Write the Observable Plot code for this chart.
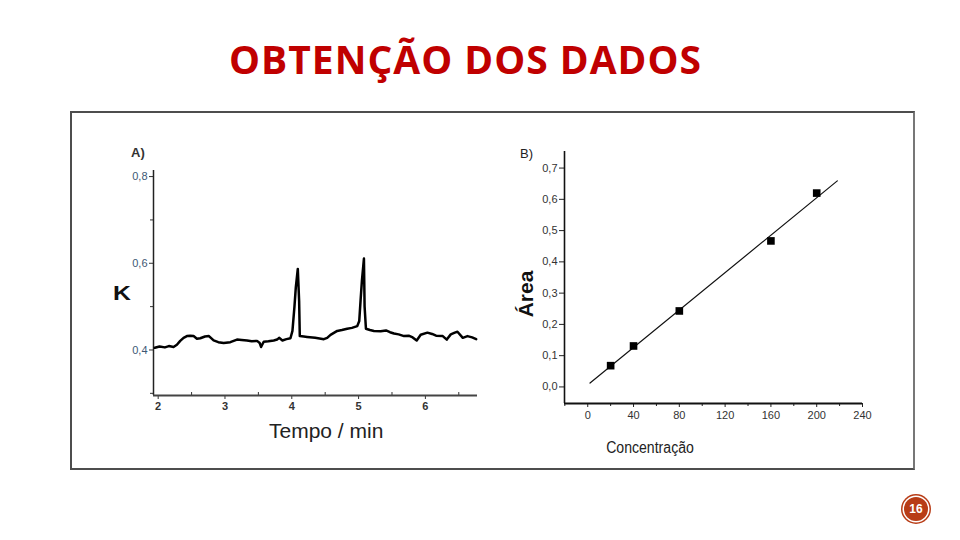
<!DOCTYPE html>
<html><head><meta charset="utf-8">
<script src="https://cdn.jsdelivr.net/npm/d3@7"></script>
<script src="https://cdn.jsdelivr.net/npm/@observablehq/plot@0.6"></script>
<style>
html,body{margin:0;padding:0;background:#fff;}
#page{position:relative;width:960px;height:540px;overflow:hidden;font-family:"Liberation Sans",Arial,sans-serif;background:#fff;}
#title{position:absolute;left:229px;top:39px;font-family:"Open Sans",sans-serif;font-weight:700;font-size:39px;line-height:39px;letter-spacing:1px;color:#c00000;white-space:nowrap;}
#frame{position:absolute;left:70px;top:111px;width:841px;height:355px;border:2px solid #4d4d4d;border-right-color:#777;background:#fff;}
#chartA{position:absolute;left:90px;top:140px;}
#chartB{position:absolute;left:500px;top:130px;}
.lbl{position:absolute;white-space:nowrap;line-height:1;}
#pageNum{position:absolute;left:904px;top:497px;width:24px;height:24px;border-radius:50%;background:#b83c16;color:#fff;font:bold 12px "Liberation Sans",Arial,sans-serif;display:flex;align-items:center;justify-content:center;box-shadow:0 0 0 1.5px #fff,0 0 0 3px #b83c16;}
</style></head><body>
<div id="page">
  <div id="title"></div>
  <div id="frame"></div>
  <div id="chartA"></div>
  <div id="chartB"></div>
  <div id="labelA" class="lbl" style="left:131px;top:146px;font-size:13px;font-weight:bold;color:#333;"></div>
  <div id="labelK" class="lbl" style="left:113px;top:282px;font-size:21px;font-weight:bold;color:#111;transform:scaleX(1.18);transform-origin:left center;"></div>
  <div id="labelTempo" class="lbl" style="left:269px;top:420px;font-size:21px;color:#222;"></div>
  <div id="labelB" class="lbl" style="left:520px;top:147px;font-size:13px;color:#222;"></div>
  <div id="labelArea" class="lbl" style="left:525px;top:294px;font-size:21px;font-weight:bold;color:#111;transform:translate(-50%,-50%) rotate(-90deg);"></div>
  <div id="labelConc" class="lbl" style="left:650px;top:448px;font-size:16px;color:#222;transform:translate(-50%,-50%) scaleX(0.88);"></div>
  <div id="pageNum"></div>
</div>
<script>
// ---- Text ----
const slideTitle = "OBTENÇÃO DOS DADOS";
const panelLabels = ["A)", "B)"];
const axisTitles = {aX: "Tempo / min", aY: "K", bX: "Concentração", bY: "Área"};
const pageNumber = "16";

// ---- Panel A: chromatogram ----
const timeMin = [1.95,2.02,2.10,2.16,2.23,2.28,2.33,2.38,2.43,2.48,2.53,2.58,2.63,2.70,2.76,2.83,2.90,2.98,3.08,3.18,3.25,3.33,3.40,3.48,3.52,3.54,3.58,3.65,3.73,3.78,3.81,3.86,3.92,3.98,4.01,4.04,4.06,4.09,4.11,4.12,4.18,4.23,4.35,4.48,4.53,4.58,4.68,4.75,4.83,4.90,4.98,5.01,5.03,5.05,5.08,5.09,5.11,5.17,5.23,5.33,5.41,5.47,5.53,5.60,5.68,5.75,5.81,5.87,5.93,6.03,6.10,6.16,6.26,6.32,6.38,6.44,6.48,6.56,6.63,6.70,6.76];
const kValue  = [0.405,0.408,0.406,0.409,0.407,0.412,0.421,0.428,0.432,0.433,0.432,0.426,0.427,0.431,0.432,0.422,0.418,0.416,0.418,0.424,0.423,0.422,0.420,0.421,0.416,0.407,0.419,0.420,0.422,0.424,0.428,0.422,0.425,0.427,0.444,0.500,0.544,0.587,0.513,0.432,0.431,0.430,0.428,0.425,0.428,0.435,0.444,0.446,0.449,0.451,0.455,0.467,0.515,0.560,0.611,0.500,0.449,0.446,0.444,0.443,0.445,0.441,0.438,0.436,0.432,0.433,0.429,0.422,0.435,0.440,0.437,0.433,0.432,0.424,0.436,0.440,0.442,0.428,0.432,0.429,0.425];
const aXTicks = [2, 3, 4, 5, 6];
const aXMinor = [2.5, 3.5, 4.5, 5.5, 6.5];
const aYTicks = [0.4, 0.6, 0.8];
const aYMinor = [0.3, 0.5, 0.7];
const aXDomain = [1.93, 6.78];
const aYDomain = [0.295, 0.814];

// ---- Panel B: calibration ----
const concentration = [20, 40, 80, 160, 200];
const area = [0.068, 0.131, 0.243, 0.467, 0.620];
const fitRange = [2, 218];
const bXTicks = [0, 40, 80, 120, 160, 200, 240];
const bXMinor = [-20, 20, 60, 100, 140, 180, 220];
const bYTicks = [0, 0.1, 0.2, 0.3, 0.4, 0.5, 0.6, 0.7];
const bXDomain = [-20.3, 240];
const bYDomain = [-0.053, 0.753];

const comma = d => d.toFixed(1).replace(".", ",");

document.getElementById("title").textContent = slideTitle;
document.getElementById("labelA").textContent = panelLabels[0];
document.getElementById("labelB").textContent = panelLabels[1];
document.getElementById("labelK").textContent = axisTitles.aY;
document.getElementById("labelTempo").textContent = axisTitles.aX;
document.getElementById("labelConc").textContent = axisTitles.bX;
document.getElementById("labelArea").textContent = axisTitles.bY;
document.getElementById("pageNum").textContent = pageNumber;

const chrom = timeMin.map((t, i) => ({t, k: kValue[i]}));

const plotA = Plot.plot({
  width: 400, height: 320,
  marginLeft: 63, marginRight: 13, marginTop: 30, marginBottom: 65,
  x: {domain: aXDomain},
  y: {domain: aYDomain},
  style: {fontFamily: "'Liberation Sans', Arial, sans-serif", fontSize: "11px", color: "#222", background: "transparent", overflow: "visible"},
  marks: [
    Plot.axisX(aXTicks, {tickSize: 4, tickPadding: 3, fontSize: 11, fontWeight: "bold", tickFormat: d => String(d), label: null, stroke: "#333", fill: "#333"}),
    Plot.axisX(aXMinor, {tickSize: -3, tickFormat: () => "", label: null, stroke: "#333"}),
    Plot.axisY(aYTicks, {tickSize: 4, tickPadding: 2, tickFormat: comma, label: null, fill: "#3d5874", stroke: "#333"}),
    Plot.axisY(aYMinor, {tickSize: 3, tickFormat: () => "", label: null, stroke: "#333"}),
    Plot.ruleX([aXDomain[0]], {stroke: "#222", strokeWidth: 1.5}),
    Plot.ruleY([aYDomain[0]], {stroke: "#444", strokeWidth: 2}),
    Plot.line(chrom, {x: "t", y: "k", stroke: "#000", strokeWidth: 2.5, strokeLinejoin: "round"})
  ]
});
document.getElementById("chartA").append(plotA);

// least-squares fit from the data
const mx = d3.mean(concentration), my = d3.mean(area);
const slope = d3.sum(concentration, (x, i) => (x - mx) * (area[i] - my)) / d3.sum(concentration, x => (x - mx) ** 2);
const intercept = my - slope * mx;
const fitLine = fitRange.map(x => ({x, y: intercept + slope * x}));
const points = concentration.map((c, i) => ({c, a: area[i]}));

const plotB = Plot.plot({
  width: 390, height: 330,
  marginLeft: 64, marginRight: 28, marginTop: 21, marginBottom: 57,
  x: {domain: bXDomain},
  y: {domain: bYDomain},
  style: {fontFamily: "'Liberation Sans', Arial, sans-serif", fontSize: "11px", color: "#333", background: "transparent", overflow: "visible"},
  marks: [
    Plot.axisX(bXTicks, {tickSize: 4, tickPadding: 4, tickFormat: d => String(d), label: null, stroke: "#222"}),
    Plot.axisX(bXMinor, {tickSize: 3, tickFormat: () => "", label: null, stroke: "#222"}),
    Plot.axisY(bYTicks, {tickSize: 5, tickPadding: 2, tickFormat: comma, label: null, stroke: "#222"}),
    Plot.ruleX([bXDomain[0]], {stroke: "#111", strokeWidth: 1.6}),
    Plot.ruleY([bYDomain[0]], {stroke: "#111", strokeWidth: 2}),
    Plot.line(fitLine, {x: "x", y: "y", stroke: "#111", strokeWidth: 1.2}),
    Plot.dot(points, {x: "c", y: "a", symbol: "square", r: 4.3, fill: "#000", stroke: "none"})
  ]
});
document.getElementById("chartB").append(plotB);
</script>
</body></html>
